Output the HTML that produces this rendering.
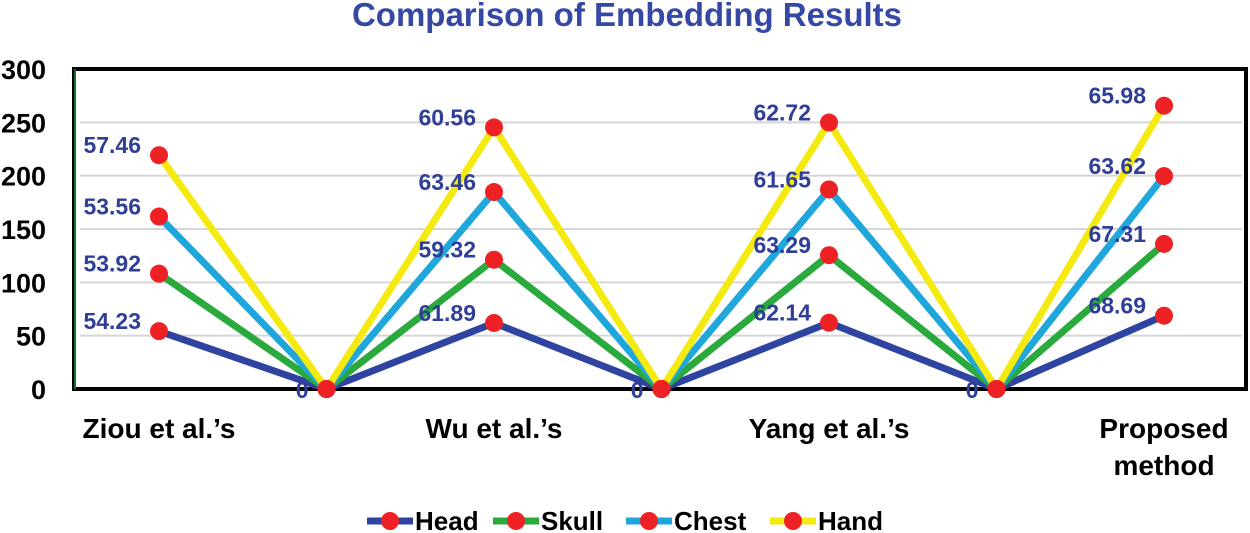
<!DOCTYPE html>
<html><head><meta charset="utf-8"><style>
html,body{margin:0;padding:0;background:#fff;}
svg{display:block;font-family:"Liberation Sans",Arial,sans-serif;font-weight:bold;}
</style></head><body>
<svg id="chart" width="1250" height="533" viewBox="0 0 1250 533">
<text x="627" y="26" text-anchor="middle" font-size="33" fill="#3548a3">Comparison of Embedding Results</text>
<g id="grid"></g>
<rect x="74" y="69" width="1172" height="320" fill="none" stroke="#000" stroke-width="4"/>
<line x1="75" y1="69" x2="75" y2="389" stroke="#1e6b2e" stroke-width="2"/>
<g id="yticks"></g>
<g id="xlabels"></g>
<g id="lines"></g>
<g id="labels"></g>
<g id="legend"></g>
</svg>
<script>
const categories = ["Ziou et al.’s", "", "Wu et al.’s", "", "Yang et al.’s", "", "Proposed method"];
const seriesNames = ["Head", "Skull", "Chest", "Hand"];
const head  = [54.23, 0, 61.89, 0, 62.14, 0, 68.69];
const skull = [53.92, 0, 59.32, 0, 63.29, 0, 67.31];
const chest = [53.56, 0, 63.46, 0, 61.65, 0, 63.62];
const hand  = [57.46, 0, 60.56, 0, 62.72, 0, 65.98];
const yTicks = [0, 50, 100, 150, 200, 250, 300];

const colors = ["#2f43a0", "#2aaa3c", "#1fa7dc", "#f5ea10"];
const series = [head, skull, chest, hand];
const NS = "http://www.w3.org/2000/svg";
const X0 = 159, DX = 167.5, Y0 = 389, YMAX = 300, PH = 320;
const x = i => X0 + DX * i;
const y = v => Y0 - v / YMAX * PH;
function mk(tag, attrs, parent, text) {
  const e = document.createElementNS(NS, tag);
  for (const k in attrs) e.setAttribute(k, attrs[k]);
  if (text !== undefined) e.textContent = text;
  parent.appendChild(e);
  return e;
}
const grid = document.getElementById('grid');
const yt = document.getElementById('yticks');
yTicks.forEach(t => {
  if (t > 0 && t < YMAX) {
    const g = mk('line', {x1: 80, x2: 1242, y1: y(t), y2: y(t), stroke: '#d6d6d6', 'stroke-width': 2}, grid);
    
    
  }
  const tl = mk('text', {x: 46, y: y(t) + 10, 'text-anchor': 'end', 'font-size': 27, fill: '#000'}, yt, String(t));
  
  
});
const xl = document.getElementById('xlabels');
categories.forEach((c, i) => {
  if (!c) return;
  const parts = c === "Proposed method" ? ["Proposed", "method"] : [c];
  parts.forEach((p, j) => {
    const t = mk('text', {x: x(i), y: 438 + j * 37, 'text-anchor': 'middle', 'font-size': 28, fill: '#000'}, xl, p);
    
    
  });
});
const cum = series.map((s, k) => s.map((v, i) => series.slice(0, k + 1).reduce((a, ss) => a + ss[i], 0)));
const lg = document.getElementById('lines');
const lb = document.getElementById('labels');
series.forEach((s, k) => {
  const pts = cum[k].map((v, i) => x(i) + ',' + y(v)).join(' ');
  const pl = mk('polyline', {points: pts, fill: 'none', stroke: colors[k], 'stroke-width': 7, 'stroke-linejoin': 'round'}, lg);
  
  
});
series.forEach((s, k) => {
  cum[k].forEach((v, i) => {
    const c = mk('circle', {cx: x(i), cy: y(v), r: 9, fill: '#ee2224'}, lg);
    
    
    if (s[i] !== 0) {
      const t = mk('text', {x: x(i) - 18, y: y(v) - 2, 'text-anchor': 'end', 'font-size': 23, fill: '#2f3e96'}, lb, s[i].toFixed(2));
      
      
    } else if (k === 0) {
      const t = mk('text', {x: x(i) - 18, y: y(0) + 9, 'text-anchor': 'end', 'font-size': 23, fill: '#2f3e96'}, lb, '0');
      
      
    }
  });
});
const leg = document.getElementById('legend');
const legX = [367, 493, 626, 770];
seriesNames.forEach((n, k) => {
  const g = mk('g', {}, leg);
  
  
  mk('line', {x1: legX[k], x2: legX[k] + 46, y1: 521, y2: 521, stroke: colors[k], 'stroke-width': 7}, g);
  mk('circle', {cx: legX[k] + 23, cy: 521, r: 9, fill: '#ee2224'}, g);
  mk('text', {x: legX[k] + 48, y: 530, 'font-size': 26, fill: '#000'}, g, n);
});
</script>
</body></html>
